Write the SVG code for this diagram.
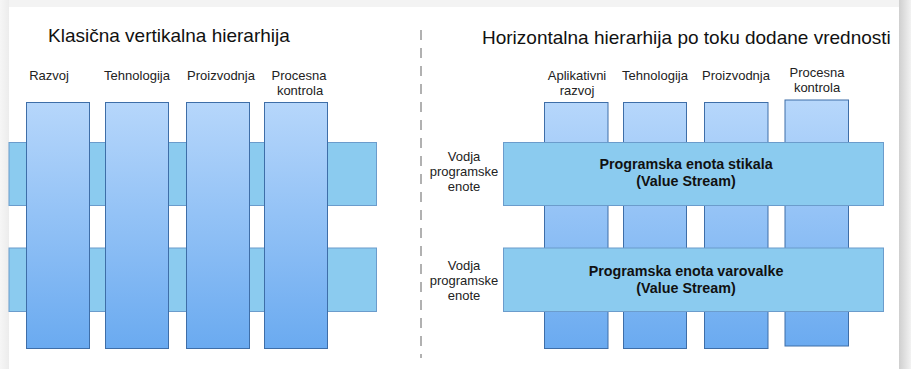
<svg xmlns="http://www.w3.org/2000/svg" width="911" height="369" viewBox="0 0 911 369">
<defs>
<linearGradient id="colGrad" gradientUnits="userSpaceOnUse" x1="0" y1="100" x2="0" y2="349">
<stop offset="0" stop-color="#b7d7fb"/>
<stop offset="1" stop-color="#6aaaf0"/>
</linearGradient>
<linearGradient id="shadowR" x1="0" y1="0" x2="1" y2="0">
<stop offset="0" stop-color="#cfcfcf"/>
<stop offset="1" stop-color="#f2f2f2"/>
</linearGradient>
<linearGradient id="shadowL" x1="0" y1="0" x2="1" y2="0">
<stop offset="0" stop-color="#f6f6f6"/>
<stop offset="1" stop-color="#ececec"/>
</linearGradient>
</defs>
<style>
.col{fill:url(#colGrad);stroke:#3e6ea8;stroke-width:1}
.bar{fill:#8bcbef;stroke:#6b9ccc;stroke-width:1}
.title{font-family:"Liberation Sans",Arial,sans-serif;font-size:19px;fill:#111}
.lbl{font-family:"Liberation Sans",Arial,sans-serif;font-size:13px;fill:#222;text-anchor:middle}
.bold{font-family:"Liberation Sans",Arial,sans-serif;font-size:14.3px;font-weight:bold;fill:#111;text-anchor:middle}
.div{stroke:#888;stroke-width:1.3;stroke-dasharray:10 8;fill:none}
</style>
<rect x="0" y="0" width="911" height="369" fill="#f3f3f3"/>
<rect x="0" y="0" width="9" height="369" fill="url(#shadowL)"/>
<rect x="899" y="0" width="12" height="369" fill="url(#shadowR)"/>
<rect x="9" y="7" width="890" height="362" fill="#ffffff"/>

<g id="left-title"><text class="title" x="48" y="42">Klasična vertikalna hierarhija</text></g>
<g id="right-title"><text class="title" x="482" y="44">Horizontalna hierarhija po toku dodane vrednosti</text></g>

<g id="divider"><line class="div" x1="421" y1="30" x2="421" y2="358"/></g>

<g id="left-bar-1"><rect class="bar" x="9" y="142.5" width="367.5" height="63"/></g>
<g id="left-bar-2"><rect class="bar" x="9" y="248" width="367.5" height="63.5"/></g>

<g id="left-razvoj"><rect class="col" x="26.5" y="102.5" width="63" height="246"/><text class="lbl" x="49" y="80">Razvoj</text></g>
<g id="left-tehnologija"><rect class="col" x="105.5" y="102.5" width="63" height="246"/><text class="lbl" x="137" y="80">Tehnologija</text></g>
<g id="left-proizvodnja"><rect class="col" x="186.5" y="102.5" width="63" height="246"/><text class="lbl" x="221" y="80">Proizvodnja</text></g>
<g id="left-procesna"><rect class="col" x="264.5" y="102.5" width="63" height="246"/><text class="lbl" x="299" y="80">Procesna</text><text class="lbl" x="300" y="95">kontrola</text></g>

<g id="right-aplikativni"><rect class="col" x="544.5" y="102.5" width="63.5" height="246"/><text class="lbl" x="577" y="80">Aplikativni</text><text class="lbl" x="577" y="95">razvoj</text></g>
<g id="right-tehnologija"><rect class="col" x="623.5" y="102.5" width="63" height="246"/><text class="lbl" x="655" y="80">Tehnologija</text></g>
<g id="right-proizvodnja"><rect class="col" x="704.5" y="102.5" width="63.5" height="246"/><text class="lbl" x="736" y="80">Proizvodnja</text></g>
<g id="right-procesna"><rect class="col" x="785" y="100" width="63.5" height="246"/><text class="lbl" x="817" y="77">Procesna</text><text class="lbl" x="817" y="92">kontrola</text></g>

<g id="vs-stikala"><rect class="bar" x="503.5" y="142.5" width="380" height="63"/><text class="bold" x="686" y="169">Programska enota stikala</text><text class="bold" x="686" y="186">(Value Stream)</text></g>
<g id="vs-varovalke"><rect class="bar" x="503.5" y="248" width="380" height="63.5"/><text class="bold" x="686" y="276">Programska enota varovalke</text><text class="bold" x="686" y="293">(Value Stream)</text></g>

<g id="vodja-1"><text class="lbl" x="464" y="161">Vodja</text><text class="lbl" x="464" y="176">programske</text><text class="lbl" x="464" y="191">enote</text></g>
<g id="vodja-2"><text class="lbl" x="464" y="270">Vodja</text><text class="lbl" x="464" y="285">programske</text><text class="lbl" x="464" y="300">enote</text></g>
</svg>
